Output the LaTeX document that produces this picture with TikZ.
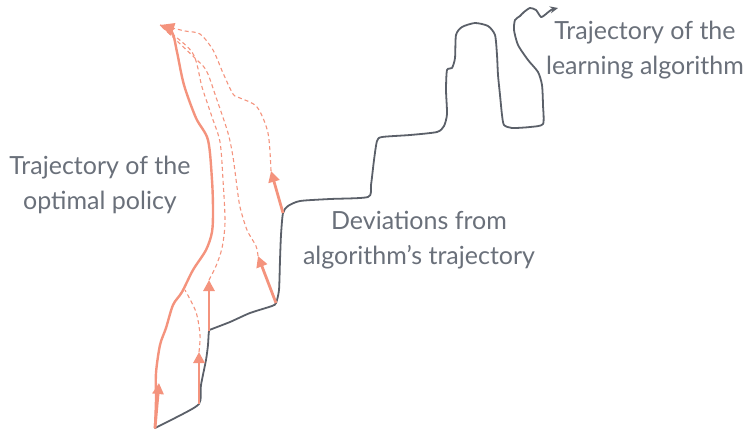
\documentclass[tikz,border=0pt]{standalone}
\usepackage{fontspec}
\setmainfont{Lato}
\usetikzlibrary{arrows.meta}
\definecolor{algo}{HTML}{5B6069}
\definecolor{opt}{HTML}{F4937D}
\definecolor{txt}{HTML}{6A707A}

\begin{document}
\begin{tikzpicture}[x=1pt, y=-1pt,
    algoline/.style={algo, line width=1.8pt, line join=round, line cap=round},
    optline/.style={opt, line width=2.4pt, line cap=round},
    devline/.style={opt, line width=1.1pt, dash pattern=on 4pt off 3pt},
    devarrow/.style={opt, line width=2.8pt, -{Triangle[length=11pt,width=11pt]}},
    txtlabel/.style={txt, font=\fontsize{25}{35}\selectfont, align=center}]
    \useasboundingbox (0,0) rectangle (749,429);

    % start points of the deviations, on the algorithm's path
    \coordinate (s0) at (155,428);
    \coordinate (s1) at (199,404);
    \coordinate (s2) at (209,331);
    \coordinate (s3) at (276,303);
    \coordinate (s4) at (283,213);
    % arrow tips
    \coordinate (t0) at (159,383);
    \coordinate (t1) at (199,352);
    \coordinate (t2) at (209,280);
    \coordinate (t3) at (258,256);
    \coordinate (t4) at (271,171);
    \coordinate (top) at (160,25);

    % learning algorithm
    \draw[algoline, -{Stealth[length=8pt,width=7pt]}] plot[smooth, tension=0.4] coordinates {
        (s0) (175,418) (s1) (201,385) (206,360) (208,345) (s2) (212,329) (230,322)
        (250,313) (272,306) (s3) (279,290) (280,260) (281,235) (s4) (288,206)
        (300,201) (330,199) (368,197) (371,185) (374,160) (377,141) (382,137)
        (410,135) (437,132) (444,126) (447,114) (446,90) (447,70) (452,68)
        (455,58) (456,35) (462,27) (475,23) (488,26) (495,35) (497,55) (498,75)
        (500,95) (502,115) (504,125) (512,128) (530,127) (543,124) (543,105)
        (542,85) (538,72) (528,60) (518,45) (514,30) (515,20) (520,16) (524,12)
        (530,8) (536,10) (541,17) (546,14) (551,10) (558,8)};

    % optimal policy
    \draw[optline, -{Triangle[length=14pt,width=13pt]}] plot[smooth, tension=0.5] coordinates {
        (s0) (156,400) (156,373) (160,345) (166,328) (173,305) (182,292)
        (193,270) (206,250) (212,232) (213,210) (212,180) (208,140) (196,118)
        (184,85) (177,52) (172,32) (top)};

    % deviations
    \draw[devarrow] (s0) -- (t0);
    \draw[devarrow] (s1) -- (t1);
    \draw[devarrow] (s2) -- (t2);
    \draw[devarrow] (s3) -- (t3);
    \draw[devarrow] (s4) -- (t4);

    \draw[devline] plot[smooth] coordinates {(t1) (200,335) (196,312) (185,290)};
    \draw[devline] plot[smooth] coordinates {(t2) (216,266) (222,248) (225,222)
        (223,180) (220,142) (212,117) (202,87) (192,52) (top)};
    \draw[devline] plot[smooth] coordinates {(t3) (256,246) (247,230) (240,207)
        (237,187) (233,157) (228,133) (217,100) (207,72) (197,60) (top)};
    \draw[devline] plot[smooth] coordinates {(t4) (268,133) (257,107) (240,98)
        (233,94) (223,73) (213,50) (200,34) (185,31) (top)};

    \node[txtlabel] (optlbl) at (100,185) {Trajectory of the\\optimal policy};
    \node[txtlabel] (devlbl) at (419,240) {Deviations from\\algorithm's trajectory};
    \node[txtlabel] (algolbl) at (645,50) {Trajectory of the\\learning algorithm};
\end{tikzpicture}
\end{document}
